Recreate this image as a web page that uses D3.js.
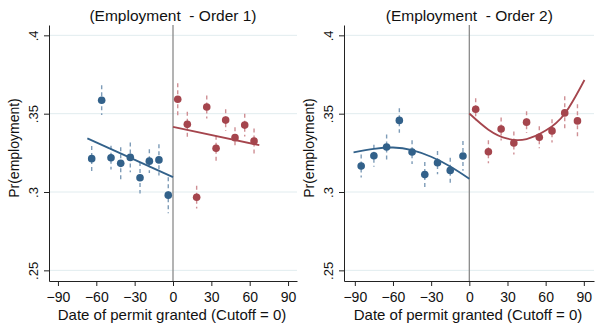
<!DOCTYPE html>
<html>
<head>
<meta charset="utf-8">
<script src="https://cdn.jsdelivr.net/npm/d3@7/dist/d3.min.js"></script>
<style>
  html, body { margin: 0; padding: 0; background: #fff; }
  text { font-family: "Liberation Sans", Arial, sans-serif; fill: #111; }
</style>
</head>
<body>
<svg id="chart" width="600" height="325"></svg>
<script>
// ---------- data ----------
const xTicks = [-90, -60, -30, 0, 30, 60, 90];
const yTicks = [0.25, 0.3, 0.35, 0.4];
const titles = ["(Employment  - Order 1)", "(Employment  - Order 2)"];
const xTitle = "Date of permit granted (Cutoff = 0)";
const yTitle = "Pr(employment)";

// Order 1 panel
const o1BlueX = [-63.6, -55.8, -48.5, -40.9, -33.4, -25.8, -18.5, -11, -3.7];
const o1BlueY = [0.3213, 0.3586, 0.3219, 0.3183, 0.3221, 0.3091, 0.3197, 0.3205, 0.2980];
const o1BlueE = [0.0080, 0.0095, 0.0076, 0.0102, 0.0095, 0.0100, 0.0076, 0.0100, 0.0115];
const o1RedX  = [3.7, 11.2, 18.5, 26.4, 33.7, 41.2, 48.5, 56.1, 63.4];
const o1RedY  = [0.3592, 0.3432, 0.2967, 0.3543, 0.3279, 0.3459, 0.3347, 0.3427, 0.3326];
const o1RedE  = [0.0102, 0.0080, 0.0073, 0.0073, 0.0080, 0.0070, 0.0067, 0.0073, 0.0080];
const o1BlueFitX = [-67, 0];
const o1BlueFitY = [0.3342, 0.3095];
const o1RedFitX  = [0, 67.5];
const o1RedFitY  = [0.3416, 0.3299];

// Order 2 panel
const o2BlueX = [-85, -75, -65, -55, -45, -35, -25, -15, -5];
const o2BlueY = [0.3166, 0.3231, 0.3287, 0.3457, 0.3255, 0.3111, 0.3187, 0.3138, 0.3230];
const o2BlueE = [0.0073, 0.0070, 0.0080, 0.0078, 0.0076, 0.0080, 0.0074, 0.0080, 0.0095];
const o2RedX  = [5, 15, 25, 35, 45, 55, 65, 75, 85];
const o2RedY  = [0.3528, 0.3257, 0.3402, 0.3313, 0.3446, 0.3350, 0.3390, 0.3505, 0.3454];
const o2RedE  = [0.0070, 0.0074, 0.0074, 0.0074, 0.0070, 0.0070, 0.0074, 0.0106, 0.0106];
const o2BlueFitX = [-91, -75, -60, -45, -30, -15, 0];
const o2BlueFitY = [0.3253, 0.3275, 0.3284, 0.3268, 0.3225, 0.3163, 0.3085];
const o2RedFitX  = [0, 15, 30, 45, 60, 75, 90.5];
const o2RedFitY  = [0.3501, 0.3398, 0.3340, 0.3338, 0.3392, 0.3500, 0.3715];

// ---------- styling ----------
const BLUE = "#32618a", RED = "#a5454d";
const BLUE_CI = "#7e9cb8", RED_CI = "#cf8f94";
const GRID = "#e1ecef";

const svg = d3.select("#chart");
svg.append("rect").attr("width", 600).attr("height", 325).attr("fill", "#fff");

const zip = (xs, ys, es) => xs.map((x, i) => ({x, y: ys[i], e: es ? es[i] : 0}));

const panels = [
  { title: titles[0], xr: [49, 297], xd: [-97, 97],
    blue: zip(o1BlueX, o1BlueY, o1BlueE), red: zip(o1RedX, o1RedY, o1RedE),
    bfit: zip(o1BlueFitX, o1BlueFitY), rfit: zip(o1RedFitX, o1RedFitY), curve: d3.curveLinear },
  { title: titles[1], xr: [344, 594], xd: [-98.5, 98],
    blue: zip(o2BlueX, o2BlueY, o2BlueE), red: zip(o2RedX, o2RedY, o2RedE),
    bfit: zip(o2BlueFitX, o2BlueFitY), rfit: zip(o2RedFitX, o2RedFitY), curve: d3.curveNatural }
];

const y = d3.scaleLinear().domain([0.2432, 0.4066]).range([281, 25]);
const yTop = 25, yBot = 281;

panels.forEach(p => {
  const x = d3.scaleLinear().domain(p.xd).range(p.xr);
  const g = svg.append("g");
  const left = p.xr[0], right = p.xr[1];

  // gridlines
  g.selectAll(".grid").data(yTicks).enter().append("line")
    .attr("x1", left).attr("x2", right)
    .attr("y1", d => y(d)).attr("y2", d => y(d))
    .attr("stroke", GRID).attr("stroke-width", 1);

  // cutoff line
  g.append("line")
    .attr("x1", x(0)).attr("x2", x(0)).attr("y1", yTop).attr("y2", yBot)
    .attr("stroke", "#8a8a8a").attr("stroke-width", 1.3);

  // error bars
  const drawCI = (data, col) => {
    g.selectAll(null).data(data).enter().append("line")
      .attr("x1", d => x(d.x)).attr("x2", d => x(d.x))
      .attr("y1", d => y(d.y + d.e)).attr("y2", d => y(d.y - d.e))
      .attr("stroke", col).attr("stroke-width", 1.4)
      .attr("stroke-dasharray", "4,3");
  };
  drawCI(p.blue, BLUE_CI);
  drawCI(p.red, RED_CI);

  // fit lines
  const line = d3.line().x(d => x(d.x)).y(d => y(d.y)).curve(p.curve);
  g.append("path").datum(p.bfit).attr("d", line)
    .attr("fill", "none").attr("stroke", BLUE).attr("stroke-width", 1.8);
  g.append("path").datum(p.rfit).attr("d", line)
    .attr("fill", "none").attr("stroke", RED).attr("stroke-width", 1.8);

  // points
  const drawPts = (data, col) => {
    g.selectAll(null).data(data).enter().append("circle")
      .attr("cx", d => x(d.x)).attr("cy", d => y(d.y)).attr("r", 3.8)
      .attr("fill", col);
  };
  drawPts(p.blue, BLUE);
  drawPts(p.red, RED);

  // x axis
  const xa = g.append("g").attr("transform", `translate(0,${yBot})`)
    .call(d3.axisBottom(x).tickValues(xTicks).tickSize(5).tickPadding(6).tickSizeOuter(0));
  xa.select(".domain").attr("stroke", "#222");
  xa.selectAll(".tick line").attr("stroke", "#222");
  xa.selectAll("text").style("font-size", "14px").attr("fill", "#111")
    .style("font-family", '"Liberation Sans", Arial, sans-serif');

  // y axis
  const ya = g.append("g").attr("transform", `translate(${left},0)`)
    .call(d3.axisLeft(y).tickValues(yTicks).tickSize(5).tickSizeOuter(0)
      .tickFormat(d => String(d).replace(/^0/, "")));
  ya.select(".domain").attr("stroke", "#222");
  ya.selectAll(".tick line").attr("stroke", "#222");
  ya.selectAll("text")
    .attr("transform", "rotate(-90)")
    .attr("x", 0).attr("y", -11).attr("dy", 0)
    .attr("text-anchor", "middle")
    .style("font-size", "13px").attr("fill", "#111")
    .style("font-family", '"Liberation Sans", Arial, sans-serif');

  // titles
  g.append("text").attr("x", x(0)).attr("y", 21).attr("text-anchor", "middle")
    .style("font-size", "15.5px").style("white-space", "pre").text(p.title);
  g.append("text").attr("x", (left + right) / 2 - 1).attr("y", 320).attr("text-anchor", "middle")
    .style("font-size", "15px").text(xTitle);
  g.append("text")
    .attr("transform", `translate(${left - 30},148) rotate(-90)`)
    .attr("text-anchor", "middle").style("font-size", "14px").text(yTitle);
});
</script>
</body>
</html>
